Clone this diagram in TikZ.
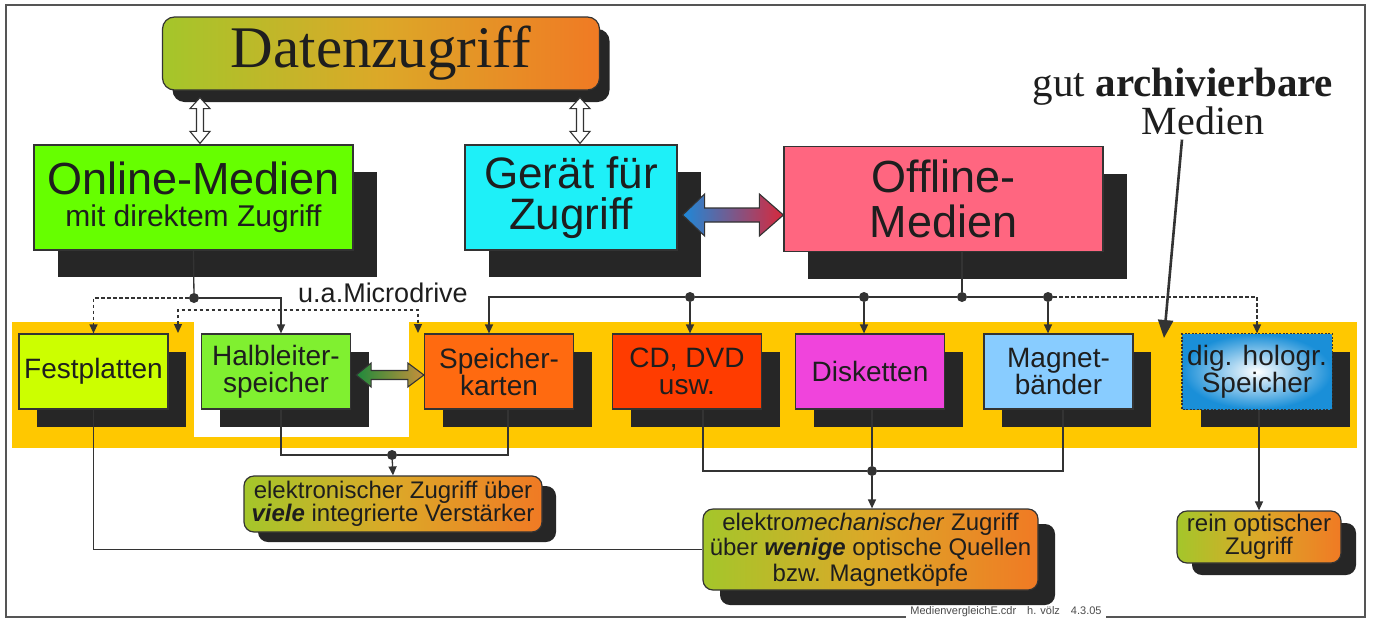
\documentclass[tikz,border=0pt]{standalone}
\usepackage{fontspec}
\setmainfont{Liberation Sans}
\newfontfamily\timesfont{Liberation Serif}
\usetikzlibrary{arrows.meta,shadows,calc}

\definecolor{ink}{HTML}{1E1E1E}
\definecolor{shad}{HTML}{262626}
\definecolor{wirec}{HTML}{333333}
\definecolor{framec}{HTML}{555555}
\definecolor{bandc}{HTML}{FFC800}
\definecolor{gradL}{HTML}{A4C62A}
\definecolor{gradM}{HTML}{DCA828}
\definecolor{gradR}{HTML}{F07A24}
\definecolor{onlinec}{HTML}{66FF00}
\definecolor{geraetc}{HTML}{1EF0F8}
\definecolor{offlinec}{HTML}{FF6680}
\definecolor{festc}{HTML}{CCFF00}
\definecolor{halbc}{HTML}{80F030}
\definecolor{karten}{HTML}{FF6A10}
\definecolor{cdc}{HTML}{FF3C00}
\definecolor{diskc}{HTML}{F044DC}
\definecolor{magc}{HTML}{88CCFF}
\definecolor{holoc}{HTML}{1A8FD8}
\definecolor{arrB}{HTML}{1E88D8}
\definecolor{arrR}{HTML}{D8283C}
\definecolor{arrG}{HTML}{1E8A3C}
\definecolor{arrT}{HTML}{C8903A}

\begin{document}
\begin{tikzpicture}[x=1pt,y=-1pt,
  box/.style={draw=wirec, line width=1.2pt, text=ink, align=center, inner sep=0pt},
  bigbox/.style={box, minimum height=105pt,
    general shadow={fill=shad, shadow xshift=24pt, shadow yshift=-27pt}},
  bandbox/.style={box, minimum width=149pt, minimum height=75pt,
    font=\fontsize{28}{27}\selectfont,
    general shadow={fill=shad, shadow xshift=18pt, shadow yshift=-18pt}},
  notebox/.style={draw=wirec, line width=1.2pt, rounded corners=10pt,
    left color=gradL, right color=gradR, middle color=gradM,
    text=ink, align=center, inner sep=0pt},
  title/.style={notebox, rounded corners=12pt, minimum width=437pt, minimum height=73pt,
    font=\timesfont\fontsize{59}{59}\selectfont,
    general shadow={fill=shad, shadow xshift=10pt, shadow yshift=-12pt}},
  link/.style={draw=wirec, line width=1.3pt},
  conn/.style={link, -{Triangle[length=9pt,width=8pt]}},
  dconn/.style={conn, dash pattern=on 3.5pt off 2.5pt},
  dot/.style={circle, fill=wirec, inner sep=0pt, minimum size=10pt},
  hollow/.style={draw=wirec, line width=1.1pt, fill=white},
  fatarrow/.style={draw=wirec, line width=1.1pt},
  bigarrow/.style={draw=wirec, line width=2.6pt, -{Triangle[length=18pt,width=15pt]}},
  note/.style={text=ink, inner sep=0pt}]

\useasboundingbox (0,0) rectangle (1373,619);
\fill[white] (0,0) rectangle (1373,619);

% outer frame
\draw[framec, line width=2pt] (6,5) rectangle (1365,617);

% yellow band of archivable media, with the gap around the semiconductor store
\fill[bandc] (12,322) rectangle (1357,448);
\fill[white] (194,322) rectangle (409,437);

% top row
\node[title] (dz) at (381,53.5) {Datenzugriff};
\node[bigbox, fill=onlinec, minimum width=319pt, font=\fontsize{45}{32}\selectfont] (on) at (193.5,197.5)
  {Online-Medien\\\fontsize{30}{32}\selectfont mit direktem Zugriff};
\node[bigbox, fill=geraetc, minimum width=212pt, font=\fontsize{44}{41}\selectfont] (ge) at (571,197.5)
  {Gerät für\\Zugriff};
\node[bigbox, fill=offlinec, minimum width=319pt, font=\fontsize{45}{45}\selectfont] (off) at (943.5,199)
  {Offline-\\Medien};

% media in the band
\node[bandbox, fill=festc] (fp) at (93.5,371.5) {Festplatten};
\node[bandbox, fill=halbc] (hl) at (276,371.5) {Halbleiter-\\speicher};
\node[bandbox, fill=karten] (sk) at (499,371.5) {Speicher-\\karten};
\node[bandbox, fill=cdc] (cd) at (687,371.5) {CD, DVD\\usw.};
\node[bandbox, fill=diskc] (dk) at (870,371.5) {Disketten};
\node[bandbox, fill=magc] (mb) at (1058.5,371.5) {Magnet-\\bänder};
\node[bandbox, draw=none, inner color=white, outer color=holoc] (dig) at (1257,371.5) {dig. hologr.\\Speicher};
\draw[wirec, line width=1.2pt, dash pattern=on 2pt off 1.5pt] (dig.north west) rectangle (dig.south east);

% access kinds
\node[notebox, minimum width=298pt, minimum height=56pt, font=\fontsize{24}{23}\selectfont,
  general shadow={fill=shad, shadow xshift=14pt, shadow yshift=-10pt}] (et) at (393,504)
  {elektronischer Zugriff über\\\textbf{\textit{viele}} integrierte Verstärker};
\node[notebox, minimum width=335pt, minimum height=81pt, font=\fontsize{24}{25.5}\selectfont,
  general shadow={fill=shad, shadow xshift=17pt, shadow yshift=-15pt}] (em) at (870.5,549.5)
  {elektro\textit{mechanischer} Zugriff\\über \textbf{\textit{wenige}} optische Quellen\\bzw. Magnetköpfe};
\node[notebox, minimum width=164pt, minimum height=52pt, font=\fontsize{24}{22}\selectfont,
  general shadow={fill=shad, shadow xshift=15pt, shadow yshift=-12pt}] (ro) at (1259,537)
  {rein optischer\\Zugriff};

% label for archivable media
\node[note, font=\timesfont\fontsize{41}{41}\selectfont, anchor=base] (archA) at (1183,96) {gut \textbf{archivierbare}};
\node[note, font=\timesfont\fontsize{40}{40}\selectfont, anchor=base] (archB) at (1203,134) {Medien};
\coordinate (mhead) at (1164,338);
\draw[bigarrow] ($(archB.south)+(-21,5)$) -- (mhead);

% hollow double arrows from the access box
\draw[hollow] let \p1=($(on.north)+(6.5,-1)$), \p2=($(dz.south)+(0,7)$) in
  (\x1,\y2) -- (\x1+10pt,\y2-11pt) -- (\x1+3.5pt,\y2-11pt) -- (\x1+3.5pt,\y1+12pt)
  -- (\x1+10pt,\y1+12pt) -- (\x1,\y1) -- (\x1-10pt,\y1+12pt) -- (\x1-3.5pt,\y1+12pt)
  -- (\x1-3.5pt,\y2-11pt) -- (\x1-10pt,\y2-11pt) -- cycle;
\draw[hollow] let \p1=($(ge.north)+(9,-1)$), \p2=($(dz.south)+(0,7)$) in
  (\x1,\y2) -- (\x1+10pt,\y2-11pt) -- (\x1+3.5pt,\y2-11pt) -- (\x1+3.5pt,\y1+12pt)
  -- (\x1+10pt,\y1+12pt) -- (\x1,\y1) -- (\x1-10pt,\y1+12pt) -- (\x1-3.5pt,\y1+12pt)
  -- (\x1-3.5pt,\y2-11pt) -- (\x1-10pt,\y2-11pt) -- cycle;

% device <-> offline media
\draw[fatarrow, left color=arrB, right color=arrR] let \p1=($(ge.east)+(5,17.5)$), \p2=(off.west) in
  (\x1,\y1) -- (\x1+22pt,\y1+21pt) -- (\x1+22pt,\y1+7pt) -- (\x2-24pt,\y1+7pt)
  -- (\x2-24pt,\y1+21pt) -- (\x2,\y1) -- (\x2-24pt,\y1-21pt) -- (\x2-24pt,\y1-7pt)
  -- (\x1+22pt,\y1-7pt) -- (\x1+22pt,\y1-21pt) -- cycle;

% semiconductor store <-> memory cards
\draw[fatarrow, left color=arrG, right color=arrT] let \p1=($(hl.east)+(5,3.5)$), \p2=(sk.west) in
  (\x1,\y1) -- (\x1+15pt,\y1+12pt) -- (\x1+15pt,\y1+4.5pt) -- (\x2-16pt,\y1+4.5pt)
  -- (\x2-16pt,\y1+12pt) -- (\x2,\y1) -- (\x2-16pt,\y1-12pt) -- (\x2-16pt,\y1-4.5pt)
  -- (\x1+15pt,\y1-4.5pt) -- (\x1+15pt,\y1-12pt) -- cycle;

% online branch
\node[dot] (d1) at (194,298) {};
\draw[link] (on.south) -- (d1);
\draw[dconn] (d1) -| (fp.north);
\draw[conn] (d1) -| ($(hl.north)+(5,0)$);
\coordinate (mdL) at (178,333);
\coordinate (mdR) at (418,333);
\draw[dconn, {Triangle[length=9pt,width=8pt]}-{Triangle[length=9pt,width=8pt]}] (mdL) -- ++(0,-23) -| (mdR);
\node[note, font=\fontsize{27}{27}\selectfont, anchor=base] (mdrv) at (383,302) {u.a.Microdrive};

% offline branch
\node[dot] (od1) at (690,297) {};
\node[dot] (od2) at (864,297) {};
\node[dot] (od3) at (962,297) {};
\node[dot] (od4) at (1048,297) {};
\draw[link] (off.south -| od3) -- (od3);
\draw[link] (od4) -- (od3) -- (od2) -- (od1);
\draw[conn] (od1) -| ($(sk.north)+(-10,0)$);
\draw[conn] (od1) -- (od1 |- cd.north);
\draw[conn] (od2) -- (od2 |- dk.north);
\draw[conn] (od4) -- (od4 |- mb.north);
\draw[dconn] (od4) -| (dig.north);

% electronic access
\node[dot] (e1) at (392,455) {};
\draw[link] ($(hl.south)+(5,0)$) |- (e1) -| ($(sk.south)+(9,0)$);
\draw[conn] (e1) -- (et.north);

% electromechanical access
\node[dot] (e2) at (872,471) {};
\draw[link] ($(cd.south)+(16,0)$) |- (e2) -| ($(mb.south)+(4.5,0)$);
\draw[link] (dk.south -| e2) -- (e2);
\draw[conn] (e2) -- (em.north -| e2);
\draw[link] (fp.south) |- (em.west);

% purely optical access
\draw[conn] (ro.north |- dig.south) -- (ro.north);

% footer
\node[fill=white, inner xsep=4pt, inner ysep=1pt, text=ink!80, font=\fontsize{11}{11}\selectfont] (foot) at (1006,612)
  {MedienvergleichE.cdr\quad h. völz\quad 4.3.05};
\end{tikzpicture}
\end{document}
